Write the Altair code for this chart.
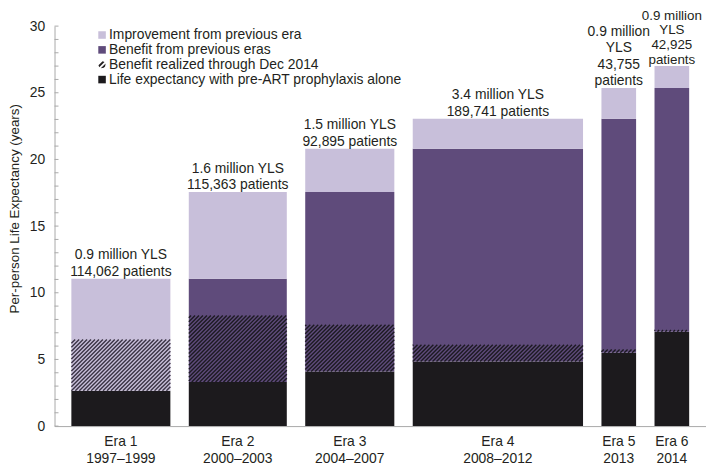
import altair as alt
import pandas as pd

# ---------------- data ----------------
eras = ["Era 1", "Era 2", "Era 3", "Era 4", "Era 5", "Era 6"]
periods = ["1997–1999", "2000–2003", "2004–2007", "2008–2012", "2013", "2014"]
yls_text = ["0.9 million YLS", "1.6 million YLS", "1.5 million YLS", "3.4 million YLS",
            "0.9 million\nYLS", "0.9 million\nYLS"]
patients_text = ["114,062 patients", "115,363 patients", "92,895 patients", "189,741 patients",
                 "43,755\npatients", "42,925\npatients"]
era_width = [100, 99, 90, 172, 35, 35]          # relative bar widths
pre_art = [2.65, 3.3, 4.1, 4.85, 5.5, 7.08]      # life expectancy with pre-ART prophylaxis alone
realized = [6.5, 8.3, 7.6, 6.1, 5.75, 7.2]      # top of "benefit realized through Dec 2014"
total = [11.05, 17.55, 20.8, 23.05, 25.35, 27.0]  # total per-person life expectancy

series_names = ["Improvement from previous era", "Benefit from previous eras",
                "Benefit realized through Dec 2014", "Life expectancy with pre-ART prophylaxis alone"]
series_colors = ["#c8bfda", "#5f4b7b", "#231f20", "#1c1a1d"]

# ---------------- layout / style ----------------
FONT = "Liberation Sans"
TEXT = "#231f20"
AXIS = "#a9a9a9"
W, H = 658, 404
YMAX = 30
X_START, GAP = 17, 18.6
LH = 16.7

lefts, rights = [], []
pos = X_START
for w in era_width:
    lefts.append(pos)
    rights.append(pos + w)
    pos += w + GAP
centers = [(a + b) / 2 for a, b in zip(lefts, rights)]

# bar segments
rows = []
prev = 0.0
for i, e in enumerate(eras):
    rows.append(dict(era=e, series=series_names[3], y0=0, y1=pre_art[i], x0=lefts[i], x1=rights[i]))
    if prev > pre_art[i]:
        rows.append(dict(era=e, series=series_names[1], y0=pre_art[i], y1=prev, x0=lefts[i], x1=rights[i]))
    rows.append(dict(era=e, series=series_names[0], y0=max(prev, pre_art[i]), y1=total[i],
                     x0=lefts[i], x1=rights[i]))
    prev = total[i]
bars_df = pd.DataFrame(rows)
legend_df = pd.DataFrame(dict(series=series_names, lx=[0] * 4, ly=[0] * 4))

# hatch lines (decoration of the "benefit realized" segment), clipped to each bar
k = H / YMAX
period = 4.0
hatch = []
for i, e in enumerate(eras):
    x0, x1 = lefts[i], rights[i]
    ya, yb = pre_art[i] * k, realized[i] * k
    c = ya - x1
    while c <= yb - x0:
        xs = max(x0, ya - c)
        xe = min(x1, yb - c)
        if xe > xs:
            hatch.append(dict(era=e, hx=xs, hx2=xe, hy=(xs + c) / k, hy2=(xe + c) / k))
        c += period
hatch_df = pd.DataFrame(hatch)

labels_df = pd.DataFrame(dict(era=eras, xc=centers, top=total,
                              label=[a + "\n" + b for a, b in zip(yls_text, patients_text)],
                              bottom=[a + "\n" + b for a, b in zip(eras, periods)]))
ticks_df = pd.DataFrame(dict(t=list(range(0, YMAX + 1))))

xscale = alt.Scale(domain=[0, W], nice=False, zero=False)
yscale = alt.Scale(domain=[0, YMAX], nice=False)
cscale = alt.Scale(domain=series_names, range=series_colors)

HATCH_PATH = ("M-0.95,0.15L0.15,-0.95L0.65,-0.75L-0.75,0.65Z"
              "M-0.35,0.95L0.95,-0.35L0.8,0.45L0.45,0.8Z")
shape_scale = alt.Scale(domain=series_names, range=["square", "square", HATCH_PATH, "square"])

legend = alt.Legend(
    title=None, orient="none", legendX=41, legendY=2,
    symbolSize=58, symbolStrokeWidth=0, symbolOpacity=1,
    labelFont=FONT, labelFontSize=14, labelColor=TEXT, labelOffset=0, labelLimit=600,
    rowPadding=1,
)

bars = alt.Chart(bars_df).mark_rect().encode(
    x=alt.X("x0:Q", scale=xscale,
            axis=alt.Axis(labels=False, ticks=False, grid=False, domain=True,
                          domainColor=AXIS, domainWidth=1, title=None)),
    x2="x1:Q",
    y=alt.Y("y0:Q", scale=yscale,
            axis=alt.Axis(title="Per-person Life Expectancy (years)", values=[0, 5, 10, 15, 20, 25, 30],
                          ticks=False, grid=False, domainColor=AXIS, domainWidth=1,
                          labelFont=FONT, labelFontSize=14, labelColor=TEXT, labelPadding=10,
                          titleFont=FONT, titleFontSize=13.5, titleFontWeight="normal",
                          titleColor=TEXT, titleAngle=270, titleAlign="center",
                          titleBaseline="middle", titleX=-40, titleY=184)),
    y2="y1:Q",
    color=alt.Color("series:N", scale=cscale, legend=legend),
)

legend_layer = alt.Chart(legend_df).mark_point(filled=True, opacity=0, size=1).encode(
    x=alt.X("lx:Q", scale=xscale),
    y=alt.Y("ly:Q", scale=yscale),
    color=alt.Color("series:N", scale=cscale, legend=legend),
    shape=alt.Shape("series:N", scale=shape_scale, legend=legend),
)

hatch_layer = alt.Chart(hatch_df).mark_rule(strokeWidth=1.4, strokeCap="butt").encode(
    x=alt.X("hx:Q", scale=xscale), x2="hx2:Q",
    y=alt.Y("hy:Q", scale=yscale), y2="hy2:Q",
    color=alt.condition("datum.era === 'Era 1'", alt.value("#3a3344"), alt.value("#1c1a22")),
)

ticks = alt.Chart(ticks_df).mark_rule(color=AXIS, strokeWidth=1).encode(
    y=alt.Y("t:Q", scale=yscale), x=alt.value(0), x2=alt.value(4),
)


def top_text(filter_expr, n_lines, lh, size=14, gap=3):
    return alt.Chart(labels_df).transform_filter(filter_expr).mark_text(
        font=FONT, fontSize=size, color=TEXT, align="center", baseline="alphabetic",
        lineBreak="\n", lineHeight=lh, dy=-gap - (n_lines - 1) * lh,
    ).encode(x=alt.X("xc:Q", scale=xscale), y=alt.Y("top:Q", scale=yscale), text="label:N")


top_two = top_text("indexof(['Era 1','Era 2','Era 3','Era 4'], datum.era) >= 0", 2, LH)
top_five = top_text("datum.era === 'Era 5'", 4, LH)
top_six = top_text("datum.era === 'Era 6'", 4, 15.0, size=13.5, gap=2)

bottom_labels = alt.Chart(labels_df).mark_text(
    font=FONT, fontSize=14, color=TEXT, align="center", baseline="alphabetic",
    lineBreak="\n", lineHeight=17,
).encode(x=alt.X("xc:Q", scale=xscale), y=alt.value(H + 20), text="bottom:N")

chart = alt.layer(bars, legend_layer, hatch_layer, ticks, top_two, top_five, top_six,
                  bottom_labels).properties(
    width=W, height=H,
    autosize=alt.AutoSizeParams(type="none"),
    padding={"left": 47, "top": 16, "right": 0, "bottom": 37},
    background="white",
).configure_view(stroke=None)

chart.save("out.html", embed_options={"renderer": "svg", "actions": False})
